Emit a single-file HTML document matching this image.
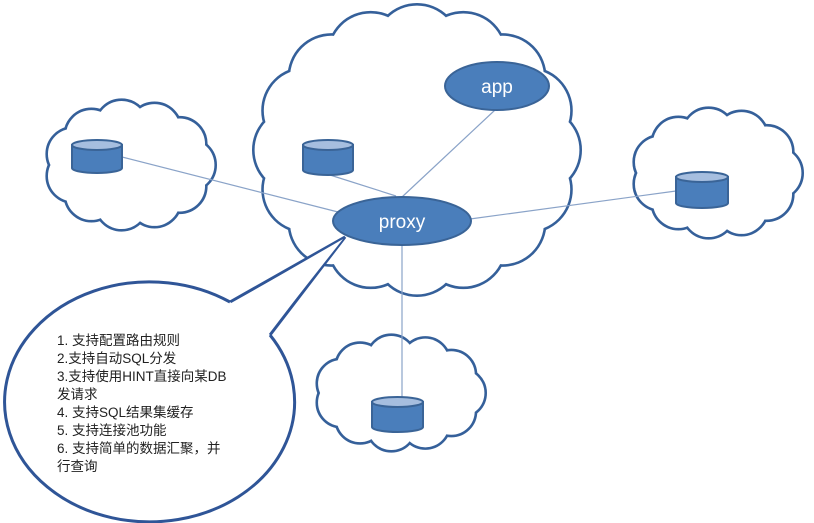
<!DOCTYPE html>
<html><head><meta charset="utf-8"><style>
html,body{margin:0;padding:0;background:#fff;}
svg{display:block}
text{font-family:"Liberation Sans","Noto Sans CJK SC",sans-serif}
</style></head><body>
<svg id="s" width="814" height="523" xmlns="http://www.w3.org/2000/svg">
<g id="clouds"></g>
<g stroke="#8aa3c8" stroke-width="1.2">
<line x1="122" y1="157" x2="338" y2="212"/>
<line x1="330" y1="175" x2="396" y2="196"/>
<line x1="495" y1="110" x2="402" y2="197"/>
<line x1="676" y1="191" x2="470" y2="219"/>
<line x1="402" y1="246" x2="402" y2="400"/>
</g>
<g id="cyl"></g>
<ellipse cx="402" cy="221" rx="69" ry="24" fill="#4a7ebb" stroke="#3a6497" stroke-width="2"/>
<text x="402" y="228" font-size="19" fill="#fff" text-anchor="middle">proxy</text>
<ellipse cx="497" cy="86" rx="52" ry="24" fill="#4a7ebb" stroke="#3a6497" stroke-width="2"/>
<text x="497" y="93" font-size="19" fill="#fff" text-anchor="middle">app</text>
<path d="M230,302 L345,237 L270,335" fill="none" stroke="#2f5597" stroke-width="3"/>
<path d="M230,302 A145,120 0 1 0 270,335" fill="#fff" stroke="#2f5597" stroke-width="3"/>
<path d="M232,303 L343,239 L268,334 Z" fill="#fff"/>
<g font-size="13.5" fill="#222">
<text x="57" y="345">1. 支持配置路由规则</text>
<text x="57" y="363">2.支持自动SQL分发</text>
<text x="57" y="381">3.支持使用HINT直接向某DB</text>
<text x="57" y="399">发请求</text>
<text x="57" y="417">4. 支持SQL结果集缓存</text>
<text x="57" y="435">5. 支持连接池功能</text>
<text x="57" y="453">6. 支持简单的数据汇聚，并</text>
<text x="57" y="471">行查询</text>
</g>
</svg>
<script>
var NS="http://www.w3.org/2000/svg",g=document.getElementById("clouds");
function cloud(cx,cy,rx,ry,n,r){
 var a=[];for(var i=0;i<n;i++){var t=i/n*2*Math.PI;a.push([cx+(rx-r)*Math.cos(t),cy+(ry-r)*Math.sin(t)]);}
 var s=document.createElementNS(NS,"g");
 a.forEach(function(p){var c=document.createElementNS(NS,"circle");c.setAttribute("cx",p[0]);c.setAttribute("cy",p[1]);c.setAttribute("r",r);c.setAttribute("fill","#fff");c.setAttribute("stroke","#35609a");c.setAttribute("stroke-width","4");s.appendChild(c);});
 a.forEach(function(p){var c=document.createElementNS(NS,"circle");c.setAttribute("cx",p[0]);c.setAttribute("cy",p[1]);c.setAttribute("r",r-0.6);c.setAttribute("fill","#fff");s.appendChild(c);});
 var e=document.createElementNS(NS,"ellipse");e.setAttribute("cx",cx);e.setAttribute("cy",cy);e.setAttribute("rx",rx-r);e.setAttribute("ry",ry-r);e.setAttribute("fill","#fff");s.appendChild(e);
 g.appendChild(s);
}
cloud(417,150,163,145,16,42);
cloud(130,165,85,65,11,26);
cloud(717,173,85,65,11,26);
cloud(400,393,85,58,11,24);
var cg=document.getElementById("cyl");
function cyl(x,y,w,h){
 cg.innerHTML+='<path d="M'+x+','+(y+5)+' L'+x+','+(y+h-5)+' A'+(w/2)+',5 0 0 0 '+(x+w)+','+(y+h-5)+' L'+(x+w)+','+(y+5)+' Z" fill="#4a7ebb" stroke="#3a6497" stroke-width="2"/>'+
 '<ellipse cx="'+(x+w/2)+'" cy="'+(y+5)+'" rx="'+(w/2)+'" ry="5" fill="#a6bedf" stroke="#3a6497" stroke-width="2"/>';
}
cyl(303,140,50,35);cyl(72,140,50,33);cyl(676,172,52,36);cyl(372,397,51,35);
</script>
</body></html>
